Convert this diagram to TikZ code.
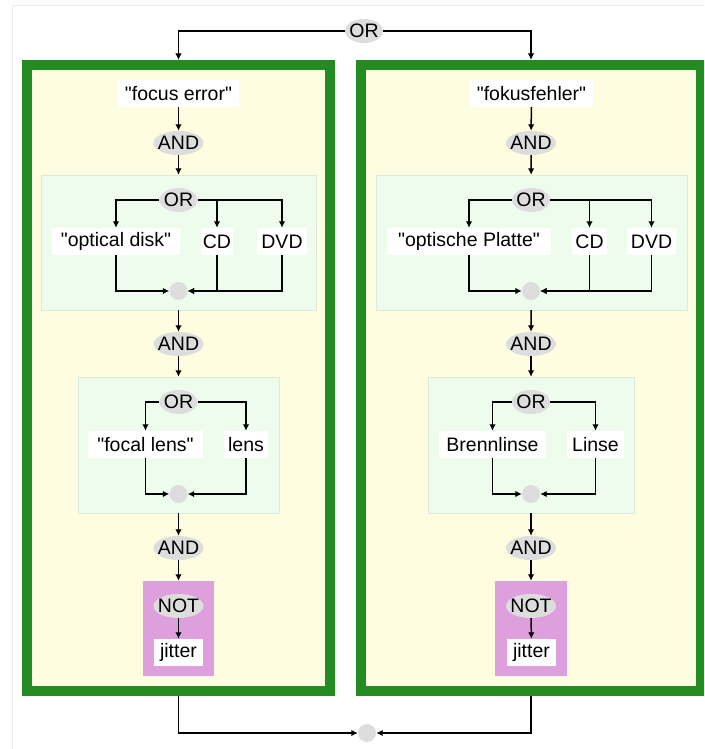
\documentclass[tikz,border=0pt]{standalone}
\usepackage{fontspec}
\setmainfont{Liberation Sans}
\usetikzlibrary{arrows.meta,shapes.geometric}

\definecolor{frameGreen}{HTML}{228B22}
\definecolor{paleYellow}{HTML}{FFFDE0}
\definecolor{paleGreen}{HTML}{EEFCEE}
\definecolor{notPink}{HTML}{DDA0DD}
\definecolor{gateGray}{HTML}{DDDDDD}

\begin{document}
\begin{tikzpicture}[x=1pt, y=-1pt,
	font=\fontsize{19.5}{23}\selectfont,
	outerbox/.style={draw=frameGreen, line width=10pt, fill=paleYellow, minimum width=#1, minimum height=626pt, inner sep=0pt},
	group/.style={fill=paleGreen, draw=paleGreen!85!gray, minimum width=#1, minimum height=135pt, inner sep=0pt},
	notbox/.style={fill=notPink, minimum width=#1, minimum height=95pt, inner sep=0pt},
	word/.style={fill=white, minimum width=#1, minimum height=27pt, inner sep=0pt},
	gate/.style={ellipse, fill=gateGray, inner xsep=-2.9pt, inner ysep=0pt, minimum width=38pt, minimum height=24pt},
	joint/.style={circle, fill=gateGray, minimum size=18pt, inner sep=0pt},
	link/.style={-{Latex[length=6.5pt,width=6.5pt]}, line width=1.5pt},
	]
	\useasboundingbox (0,0) rectangle (704,749);
	\clip (0,0) rectangle (704,749);
	\draw[black!7] (12,760) |- (720,5);

	%Nodes
	\node[gate]              (topor)    at (364,31)      {OR};
	\node[outerbox=303pt]    (enbox)    at (178.5,378)   {};
	\node[outerbox=340pt]    (debox)    at (531,378)     {};

	% english column
	\node[word=121pt]        (enterm)   at (178.5,93.5)  {\textquotedbl focus error\textquotedbl};
	\node[gate]              (enand1)   at (178.5,143)   {AND};
	\node[group=275pt]       (endev)    at (178.5,242.5) {};
	\node[gate]              (enor1)    at (178.5,200)   {OR};
	\node[word=128pt]        (endisk)   at (116,241.5)   {\textquotedbl optical disk\textquotedbl};
	\node[word=32pt]         (encd)     at (217,241.5)   {CD};
	\node[word=50pt]         (endvd)    at (282,241.5)   {DVD};
	\node[joint]             (enjoin1)  at (178.5,291)   {};
	\node[gate]              (enand2)   at (178.5,344)   {AND};
	\node[group=201pt, minimum height=136pt] (enlens) at (178.5,445) {};
	\node[gate]              (enor2)    at (178.5,402)   {OR};
	\node[word=115pt]        (enfocal)  at (145.5,444.5) {\textquotedbl focal lens\textquotedbl};
	\node[word=44pt]         (enplain)  at (246,444.5)   {lens};
	\node[joint]             (enjoin2)  at (178.5,494)   {};
	\node[gate]              (enand3)   at (178.5,548)   {AND};
	\node[notbox=71pt]       (ennot)    at (178.5,628.5) {};
	\node[gate]              (ennotop)  at (178.5,606)   {NOT};
	\node[word=49pt]         (enjitter) at (178.5,652.5) {jitter};

	% german column
	\node[word=123pt]        (determ)   at (531.5,93.5)  {\textquotedbl fokusfehler\textquotedbl};
	\node[gate]              (deand1)   at (531,143)     {AND};
	\node[group=311pt]       (dedev)    at (531.5,242.5) {};
	\node[gate]              (deor1)    at (531,200)     {OR};
	\node[word=164pt]        (dedisk)   at (469,241.5)   {\textquotedbl optische Platte\textquotedbl};
	\node[word=35pt]         (decd)     at (589.5,241.5) {CD};
	\node[word=49pt]         (dedvd)    at (651.5,241.5) {DVD};
	\node[joint]             (dejoin1)  at (531,291)     {};
	\node[gate]              (deand2)   at (531,344)     {AND};
	\node[group=206pt, minimum height=136pt] (delens) at (531,445) {};
	\node[gate]              (deor2)    at (531,402)     {OR};
	\node[word=107pt]        (deburn)   at (492.5,444.5) {Brennlinse};
	\node[word=57pt]         (deplain)  at (595.5,444.5) {Linse};
	\node[joint]             (dejoin2)  at (531,494)     {};
	\node[gate]              (deand3)   at (531,548)     {AND};
	\node[notbox=72pt]       (denot)    at (531,628.5)   {};
	\node[gate]              (denotop)  at (531,606)     {NOT};
	\node[word=49pt]         (dejitter) at (531.5,652.5) {jitter};

	\node[joint]             (bottom)   at (367,733)     {};

	%Lines
	\draw[link] (topor) -| (enbox);
	\draw[link] (topor) -| (debox);
	\draw[link] (enbox) |- (bottom);
	\draw[link] (debox) |- (bottom);

	\draw[link] (enterm) -- (enand1);
	\draw[link] (enand1) -- (endev);
	\draw[link] (enor1) -| (endisk);
	\draw[link] (enor1) -| (encd);
	\draw[link] (enor1) -| (endvd);
	\draw[link] (endisk) |- (enjoin1);
	\draw[link] (encd) |- (enjoin1);
	\draw[link] (endvd) |- (enjoin1);
	\draw[link] (endev) -- (enand2);
	\draw[link] (enand2) -- (enlens);
	\draw[link] (enor2) -| (enfocal);
	\draw[link] (enor2) -| (enplain);
	\draw[link] (enfocal) |- (enjoin2);
	\draw[link] (enplain) |- (enjoin2);
	\draw[link] (enlens) -- (enand3);
	\draw[link] (enand3) -- (ennot);
	\draw[link] (ennotop) -- (enjitter);

	\draw[link] (determ) -- (deand1);
	\draw[link] (deand1) -- (dedev);
	\draw[link] (deor1) -| (dedisk);
	\draw[link] (deor1) -| (decd);
	\draw[link] (deor1) -| (dedvd);
	\draw[link] (dedisk) |- (dejoin1);
	\draw[link] (decd) |- (dejoin1);
	\draw[link] (dedvd) |- (dejoin1);
	\draw[link] (dedev) -- (deand2);
	\draw[link] (deand2) -- (delens);
	\draw[link] (deor2) -| (deburn);
	\draw[link] (deor2) -| (deplain);
	\draw[link] (deburn) |- (dejoin2);
	\draw[link] (deplain) |- (dejoin2);
	\draw[link] (delens) -- (deand3);
	\draw[link] (deand3) -- (denot);
	\draw[link] (denotop) -- (dejitter);
\end{tikzpicture}
\end{document}
